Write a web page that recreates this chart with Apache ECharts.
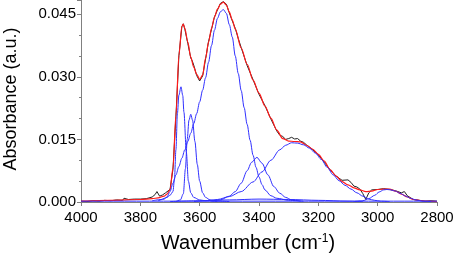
<!DOCTYPE html>
<html>
<head>
<meta charset="utf-8">
<script src="https://cdn.jsdelivr.net/npm/echarts@6/dist/echarts.min.js"></script>
<style>
  html, body { margin: 0; padding: 0; background: #fff; }
  #chart { width: 454px; height: 253px; }
</style>
</head>
<body>
<div id="chart"></div>
<script>
// measured spectrum (black)
const dataWn = [4000,3980,3960,3940,3920,3900,3880,3860,3855,3840,3820,3800,3780,3760,3750,3744,3735,3725,3715,3700,
  3690,3680,3670,3660,3655,3650,3640,3630,3625,3620,3610,3600,3590,3580,3570,3560,3550,3540,3530,3520,
  3510,3500,3490,3480,3470,3460,3440,3420,3400,3380,3360,3340,3330,3320,3310,3300,3290,3280,3270,3260,
  3250,3240,3220,3200,3180,3160,3140,3120,3100,3090,3080,3070,3060,3050,3040,3030,3020,3000,2980,2960,
  2940,2920,2910,2900,2880,2860,2840,2820,2800];
const dataAbs = [0.0002,0.0001,0.0003,0.0002,0.0004,0.0003,0.0005,0.0004,0.0009,0.0006,0.0007,0.0007,0.0008,0.0012,0.0018,0.0025,0.0014,0.0017,0.0022,0.0030,
  0.0078,0.0205,0.0350,0.0420,0.0427,0.0414,0.0380,0.0345,0.0338,0.0328,0.0303,0.0290,0.0302,0.0343,0.0385,0.0414,0.0444,0.0460,0.0476,0.0480,
  0.0474,0.0453,0.0434,0.0416,0.0392,0.0370,0.0327,0.0293,0.0258,0.0231,0.0199,0.0170,0.0160,0.0157,0.0150,0.0152,0.0155,0.0151,0.0152,0.0146,
  0.0143,0.0137,0.0126,0.0113,0.0095,0.0077,0.0062,0.0052,0.0053,0.0047,0.0038,0.0036,0.0031,0.0020,0.0006,0.0022,0.0029,0.0030,0.0032,0.0030,
  0.0027,0.0022,0.0025,0.0015,0.0006,0.0004,0.0002,0.0003,0.0002];

// fit (red)
const fitWn = [4000,3900,3800,3760,3740,3720,3710,3700,3690,3680,3670,3660,3655,3650,3640,3630,3620,3610,3600,3590,
  3580,3570,3560,3550,3540,3530,3520,3510,3500,3490,3480,3460,3440,3420,3400,3380,3360,3340,3320,3300,
  3280,3260,3240,3220,3200,3180,3160,3140,3120,3100,3080,3060,3040,3020,3000,2980,2960,2940,2920,2900,
  2880,2860,2840,2800];
const fitAbs = [0.0002,0.0004,0.0006,0.0008,0.0010,0.0014,0.0019,0.0029,0.0081,0.0208,0.0352,0.0421,0.0426,0.0416,0.0383,0.0347,0.0323,0.0306,0.0294,0.0304,
  0.0345,0.0383,0.0416,0.0443,0.0462,0.0474,0.0479,0.0472,0.0455,0.0436,0.0414,0.0369,0.0330,0.0292,0.0261,0.0230,0.0201,0.0172,0.0152,0.0146,
  0.0145,0.0144,0.0136,0.0127,0.0114,0.0098,0.0077,0.0062,0.0049,0.0041,0.0034,0.0029,0.0025,0.0026,0.0030,0.0031,0.0031,0.0026,0.0019,0.0012,
  0.0006,0.0004,0.0002,0.0001];

// fitted components (blue)
const peakAWn = [3760,3730,3710,3700,3690,3685,3680,3675,3670,3663,3657,3653,3645,3638,3630,3620,3600,3580,3540];
const peakAAbs = [0.0003,0.0006,0.0011,0.0016,0.0025,0.0055,0.0125,0.0212,0.0256,0.0276,0.0255,0.0215,0.0120,0.0050,0.0022,0.0011,0.0005,0.0003,0.0001];

const peakBWn = [3680,3665,3655,3648,3642,3636,3630,3624,3616,3608,3600,3590,3580,3565,3540,3500];
const peakBAbs = [0.0001,0.0005,0.0020,0.0080,0.0150,0.0196,0.0210,0.0196,0.0145,0.0090,0.0050,0.0022,0.0011,0.0005,0.0002,0.0001];

const peakCWn = [3740,3720,3710,3700,3690,3680,3670,3660,3650,3640,3630,3620,3610,3600,3590,3580,3570,3560,3550,3540,
  3530,3520,3510,3500,3490,3480,3470,3460,3450,3440,3430,3420,3410,3400,3390,3380,3360,3340,3300,3250];
const peakCAbs = [0.0003,0.0007,0.0012,0.0025,0.0045,0.0065,0.0085,0.0105,0.0125,0.0145,0.0165,0.0188,0.0212,0.0240,0.0268,0.0298,0.0335,0.0375,0.0412,0.0440,
  0.0456,0.0461,0.0452,0.0425,0.0395,0.0350,0.0308,0.0267,0.0226,0.0186,0.0148,0.0112,0.0083,0.0060,0.0042,0.0029,0.0015,0.0009,0.0004,0.0002];

const peakDWn = [3560,3530,3500,3480,3460,3440,3425,3407,3390,3370,3350,3330,3310,3290,3260];
const peakDAbs = [0.0002,0.0005,0.0014,0.0025,0.0045,0.0075,0.0095,0.0107,0.0093,0.0065,0.0037,0.0021,0.0011,0.0005,0.0002];

const peakEWn = [3620,3580,3540,3500,3460,3420,3390,3360,3330,3310,3290,3270,3250,3230,3210,3190,3170,3150,3130,3110,
  3090,3070,3050,3030,3010,2990,2960];
const peakEAbs = [0.0001,0.0003,0.0006,0.0013,0.0025,0.0048,0.0072,0.0100,0.0125,0.0136,0.0142,0.0141,0.0137,0.0129,0.0117,0.0102,0.0083,0.0065,0.0051,0.0040,
  0.0031,0.0022,0.0014,0.0007,0.0004,0.0002,0.0001];

const peakFWn = [3080,3050,3030,3010,2995,2980,2969,2955,2940,2925,2905,2890,2870,2850,2820];
const peakFAbs = [0.0001,0.0003,0.0008,0.0016,0.0024,0.0029,0.0030,0.0029,0.0026,0.0021,0.0014,0.0009,0.0005,0.0002,0.0001];

const peakGWn = [3700,3600,3500,3400,3300,3200,3100,3050];
const peakGAbs = [0.0001,0.0003,0.0005,0.0007,0.0006,0.0004,0.0002,0.0001];

const baseWn = [4000,2800];
const baseAbs = [0.0002,0.0002];

const xTicks = [2800, 4000, 200];   // min, max, step
const yTicks = [0, 0.0484, 0.015];

const pairs = (xs, ys) => xs.map((x, i) => [x, ys[i]]);
const font = 'Liberation Sans, Arial, sans-serif';

const chart = echarts.init(document.getElementById('chart'));

const blue = '#3030ff';
const blueSeries = [
  [peakAWn, peakAAbs], [peakBWn, peakBAbs], [peakCWn, peakCAbs], [peakDWn, peakDAbs],
  [peakEWn, peakEAbs], [peakFWn, peakFAbs], [peakGWn, peakGAbs], [baseWn, baseAbs]
].map(([xs, ys]) => ({
  type: 'line',
  data: pairs(xs, ys),
  showSymbol: false,
  smooth: 0.3,
  smoothMonotone: 'x',
  lineStyle: { color: blue, width: 1 },
  z: 3
}));

const option = {
  animation: false,
  grid: { left: 81, right: 17, top: 0, bottom: 51, containLabel: false, outerBoundsMode: 'none' },
  xAxis: {
    type: 'value',
    inverse: true,
    min: xTicks[0],
    max: xTicks[1],
    interval: xTicks[2],
    name: 'Wavenumber (cm{sup|-1})',
    nameLocation: 'middle',
    nameGap: 31,
    nameTextStyle: {
      fontFamily: font,
      fontSize: 20,
      color: '#000',
      padding: [0, 22, 0, 0],
      rich: { sup: { fontSize: 12, verticalAlign: 'top', lineHeight: 14, fontFamily: font } }
    },
    axisLine: { lineStyle: { color: '#808080', width: 1 } },
    axisTick: { inside: false, length: 4, lineStyle: { color: '#808080' } },
    splitLine: { show: false },
    axisLabel: {
      margin: 8,
      color: '#000',
      fontSize: 15,
      fontFamily: font,
      hideOverlap: false,
      formatter: (v) => String(v)
    }
  },
  yAxis: {
    type: 'value',
    min: yTicks[0],
    max: yTicks[1],
    interval: yTicks[2],
    name: 'Absorbance (a.u.)',
    nameLocation: 'middle',
    nameGap: 61,
    nameTextStyle: {
      fontFamily: font,
      fontSize: 18,
      color: '#000',
      padding: [0, 0, 0, 4]
    },
    axisLine: { show: true, lineStyle: { color: '#808080', width: 1 } },
    axisTick: { show: true, length: 4, lineStyle: { color: '#808080' } },
    minorTick: { show: true, splitNumber: 3, length: 2, lineStyle: { color: '#808080' } },
    splitLine: { show: false },
    axisLabel: {
      margin: 5,
      color: '#000',
      fontSize: 15,
      fontFamily: font,
      showMaxLabel: false,
      formatter: (v) => v.toFixed(3)
    }
  },
  series: [
    {
      type: 'line',
      data: pairs(dataWn, dataAbs),
      showSymbol: false,
      lineStyle: { color: '#222', width: 1 },
      z: 1
    },
    {
      type: 'line',
      data: pairs(fitWn, fitAbs),
      showSymbol: false,
      smooth: 0.3,
      smoothMonotone: 'x',
      lineStyle: { color: '#ff1a1a', width: 1.2 },
      z: 2
    },
    ...blueSeries
  ]
};

chart.setOption(option);
</script>
</body>
</html>
